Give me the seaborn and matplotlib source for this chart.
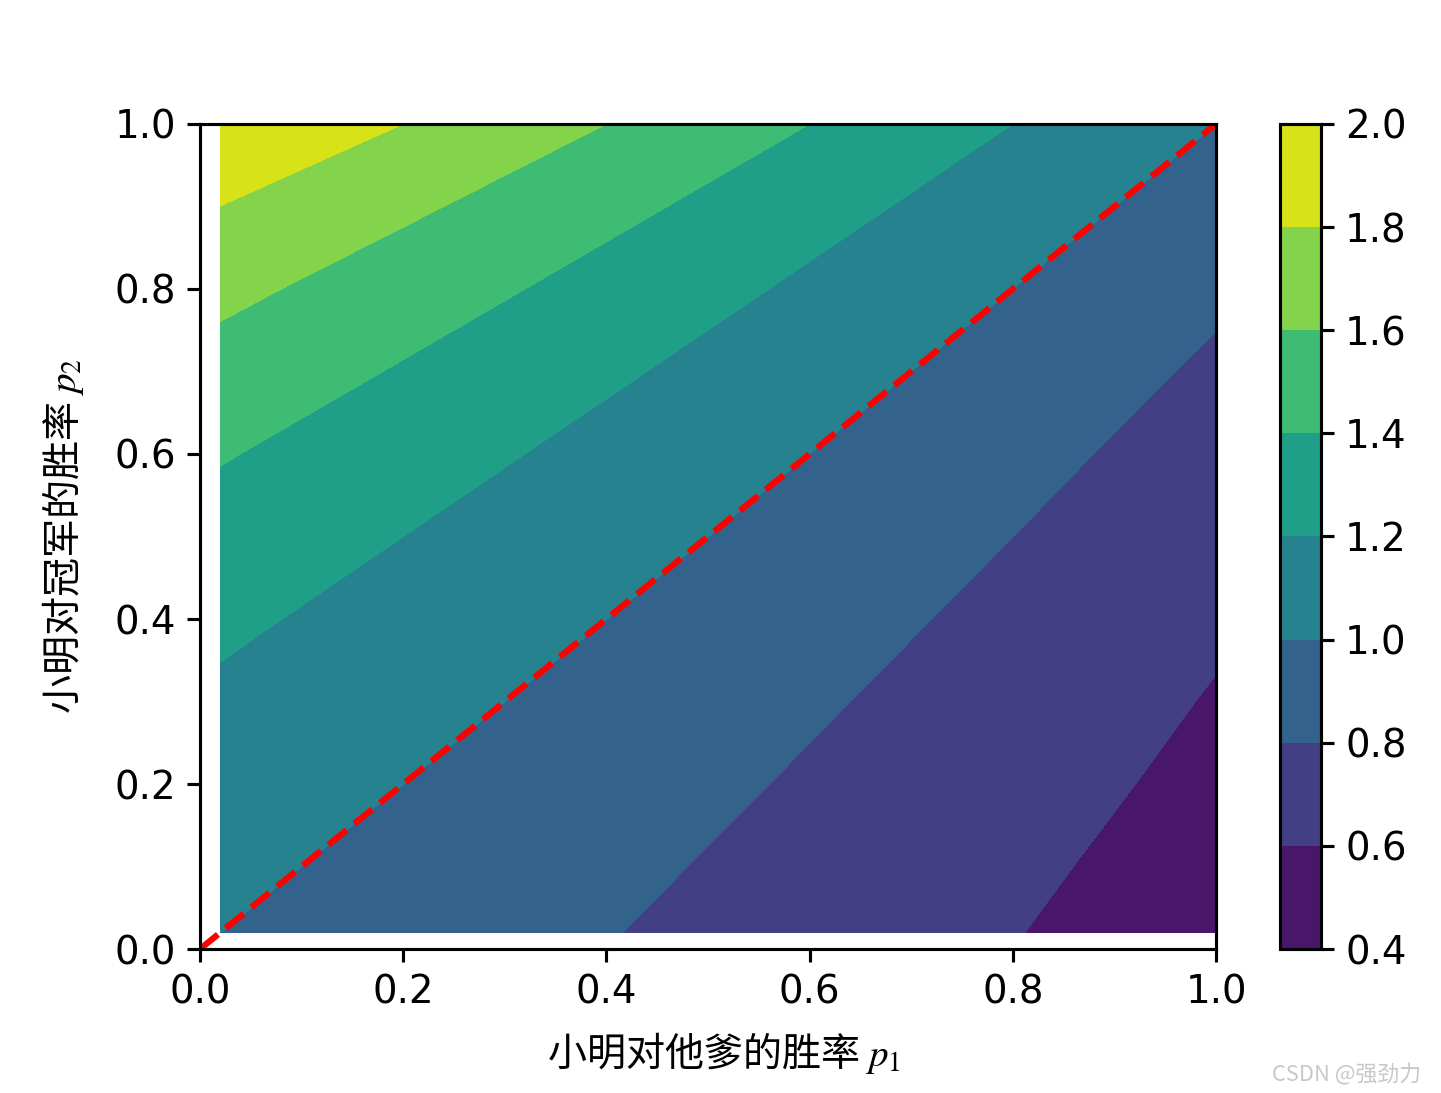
import matplotlib
matplotlib.use("Agg")
import matplotlib.pyplot as plt
import numpy as np
import seaborn as sns

# win rate against dad (x) and against the champion (y)
p1 = [0.02, 1.0]
p2 = [0.02, 0.1, 0.2, 0.3, 0.4, 0.5, 0.6, 0.7, 0.8, 0.9, 1.0]

ratio_left = [1.000, 1.042, 1.100, 1.165, 1.238, 1.320, 1.414, 1.523, 1.650, 1.800, 1.980]
ratio_right = [0.505, 0.526, 0.556, 0.588, 0.625, 0.667, 0.714, 0.769, 0.833, 0.909, 1.000]
levels = [0.4, 0.6, 0.8, 1.0, 1.2, 1.4, 1.6, 1.8, 2.0]
diag = [0.0, 1.0]

sns.set_style("ticks", {"axes.edgecolor": "black", "xtick.color": "black",
                        "ytick.color": "black", "text.color": "black",
                        "axes.labelcolor": "black"})
plt.rcParams["font.family"] = ["DejaVu Sans", "Noto Sans CJK SC"]
plt.rcParams["mathtext.fontset"] = "stix"

fig = plt.figure(figsize=(1441 / 225, 1093 / 225), dpi=225)
ax = fig.add_axes([0.1388, 0.1317, 0.7051, 0.7549])
cax = fig.add_axes([0.8883, 0.1317, 0.0285, 0.7549])

X, Y = np.meshgrid(p1, p2)
Z = np.column_stack([ratio_left, ratio_right])
cs = ax.contourf(X, Y, Z, levels=levels, cmap="viridis")
sns.lineplot(x=diag, y=diag, ax=ax, color="red", linestyle="--", linewidth=2)
ax.set_xlim(0, 1)
ax.set_ylim(0, 1)
ax.set_xticks([0.0, 0.2, 0.4, 0.6, 0.8, 1.0])
ax.set_yticks([0.0, 0.2, 0.4, 0.6, 0.8, 1.0])
ax.tick_params(labelsize=12.4, length=4.2, width=1)
for s in ax.spines.values():
    s.set_linewidth(1)

lab_font = ["Noto Sans CJK SC", "DejaVu Sans"]
ax.set_xlabel("小明对他爹的胜率 $p_1$", family=lab_font, fontsize=12.5, labelpad=6)
ax.xaxis.label.set_x(0.516)
ax.set_ylabel("小明对冠军的胜率 $p_2$", family=lab_font, fontsize=12.5, labelpad=9)

cb = fig.colorbar(cs, cax=cax)
cb.set_ticks(levels)
cb.ax.tick_params(labelsize=12.4, length=4.2, width=1)
cb.outline.set_linewidth(1)

fig.text(0.986, 0.006, "CSDN @强劲力", family=lab_font, fontsize=7,
         color="#c8c8c8", ha="right", va="bottom")

fig.savefig("out.png", dpi=225)
